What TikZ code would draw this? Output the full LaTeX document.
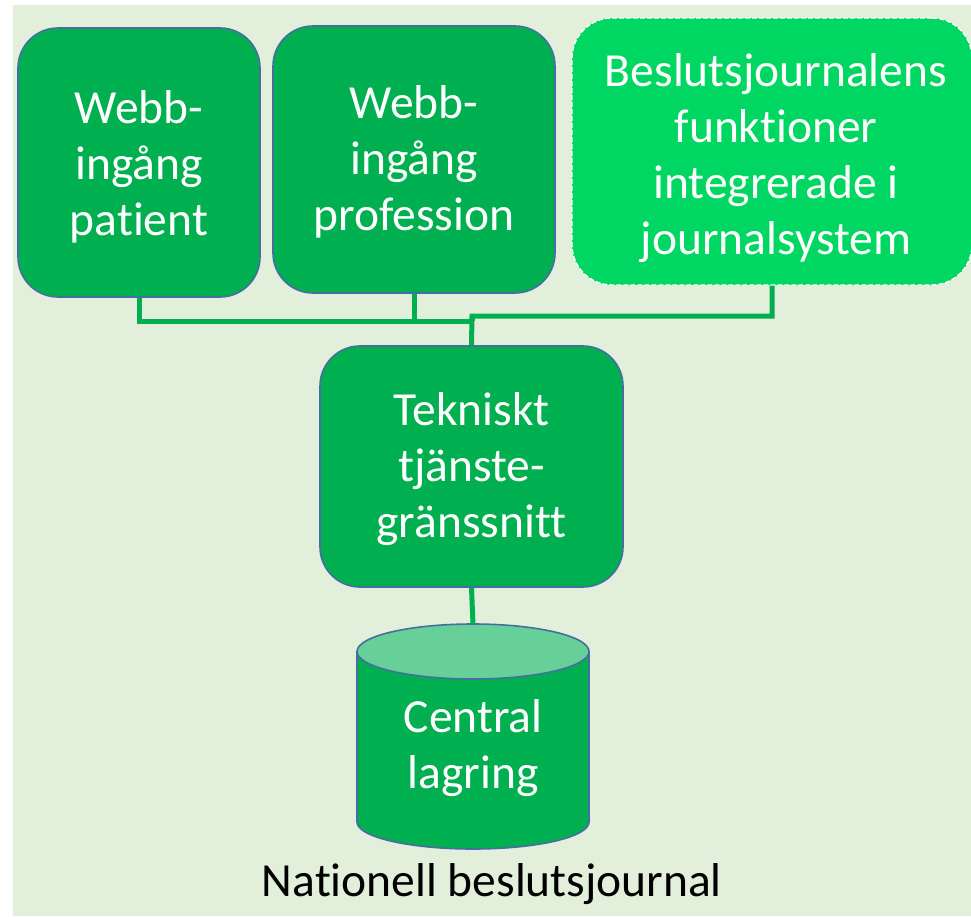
\documentclass[tikz,border=0pt]{standalone}
\usepackage{fontspec}
\setmainfont{Carlito}[RawFeature={-liga;-clig;-calt;-dlig;-rlig}]
\definecolor{bgc}{RGB}{226,239,218}
\definecolor{boxg}{RGB}{0,176,80}
\definecolor{brightg}{RGB}{0,214,98}
\definecolor{topg}{RGB}{102,208,152}
\definecolor{bordc}{RGB}{70,110,160}
\definecolor{lineg}{RGB}{0,176,80}
\newcommand{\nl}{\kern0pt }
\begin{document}
\begin{tikzpicture}[x=1pt,y=-1pt,
  box/.style={draw=bordc, line width=1.6pt, fill=boxg, rounded corners=40pt,
    text=white, align=center, font=\fontsize{47.5}{57}\selectfont, inner sep=0pt},
  dashbox/.style={box, fill=brightg, draw=white, dash pattern=on 5pt off 2pt, line width=1.4pt},
  conn/.style={draw=lineg, line width=5pt},
  lbl/.style={text=white, align=center, font=\fontsize{47.5}{56}\selectfont, inner sep=0pt}]
\useasboundingbox (0,0) rectangle (971,916);
\fill[bgc] (13,5) rectangle (971,916);

\coordinate (jl) at (472,321);
\coordinate (jr) at (472,316);

\node[box, minimum width=242pt, minimum height=269pt] (b1) at (139,162.5) {};
\node[lbl] (b1t) at (139,167) {Webb-\\ingång\\pat\nl ient};
\node[box, minimum width=282pt, minimum height=267pt] (b2) at (414,159.5) {};
\node[lbl] (b2t) at (414,162) {Webb-\\ingång\\profession};
\node[dashbox, minimum width=400pt, minimum height=267pt] (b3) at (772,151.5) {};
\node[lbl] (b3t) at (776,158) {Beslutsjournalens\\funkt\nl ioner\\integrerade i\\journalsystem};
\node[box, minimum width=303pt, minimum height=241pt] (mid) at (471.5,466.5) {};
\node[lbl] (midt) at (471.5,469) {Tekniskt\\tjänste-\\gränssnitt};

% cylinder
\node[minimum width=232pt, minimum height=225pt, inner sep=0pt] (db) at (473,737) {};
\filldraw[fill=boxg, draw=bordc, line width=1.6pt] (357,651.5) -- (357,822)
  arc[start angle=180, end angle=0, x radius=116, y radius=27] -- (589,651.5) -- cycle;
\filldraw[fill=topg, draw=bordc, line width=1.6pt] (473,651.5) ellipse [x radius=116, y radius=27.5];
\node[lbl] (dbt) at (473,748) {Central\\lagring};

\draw[conn] (b1.south) |- (jl);
\draw[conn] (b2.south) -- (b2.south |- jl);
\draw[conn] (b3.south) |- (jr) -- (mid.north);
\draw[conn] (jl) -- (jr);
\draw[conn] (mid.south) -- (db.north);

\node[text=black, font=\fontsize{47.5}{57}\selectfont, inner sep=0pt] (cap) at (492,884) {Nat\nl ionell beslutsjournal};
\end{tikzpicture}
\end{document}
